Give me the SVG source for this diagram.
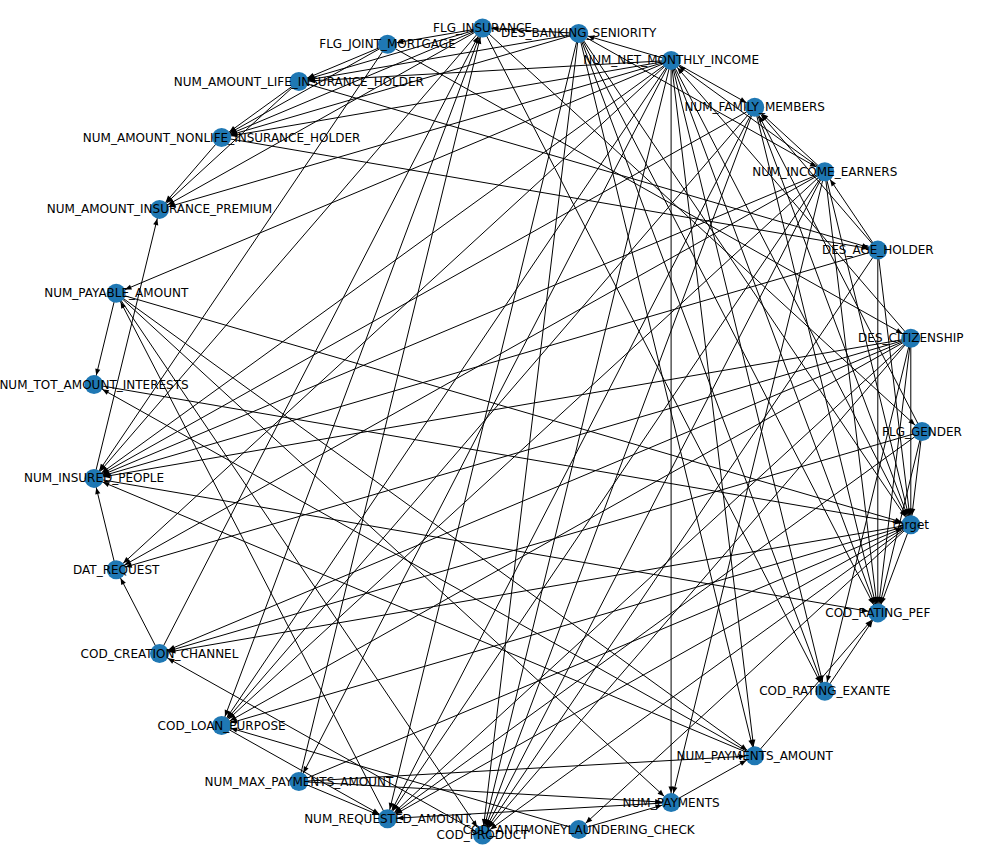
<svg xmlns="http://www.w3.org/2000/svg" width="992" height="862" viewBox="0 0 992 862">
<style>
.bg{fill:#fff}
#edges line{stroke:#000;stroke-width:1}
#edges{marker-end:url(#arr)}
.node circle{fill:#1f78b4}
.node text{font-family:"DejaVu Sans","Liberation Sans",sans-serif;font-size:12px;fill:#000;text-anchor:middle;dominant-baseline:central}
</style>
<defs>
<marker id="arr" markerUnits="userSpaceOnUse" markerWidth="20" markerHeight="10" viewBox="-20 -5 20 10" refX="0" refY="0" orient="auto">
<path d="M-9.5 0 L-16 -2.6 L-16 2.6 Z" fill="#000"/>
</marker>
</defs>
<rect class="bg" x="0" y="0" width="992" height="862"/>
<g id="edges">
<!-- CIT -->
<line x1="910.8" y1="338.3" x2="910.8" y2="524.7"/>
<line x1="910.8" y1="338.3" x2="877.8" y2="612.9"/>
<line x1="910.8" y1="338.3" x2="824.8" y2="691.3"/>
<line x1="910.8" y1="338.3" x2="482.5" y2="835"/>
<line x1="910.8" y1="338.3" x2="387.5" y2="818.7"/>
<line x1="910.8" y1="338.3" x2="221.6" y2="725.5"/>
<line x1="910.8" y1="338.3" x2="159.5" y2="653.6"/>
<line x1="910.8" y1="338.3" x2="116.2" y2="569.7"/>
<line x1="910.8" y1="338.3" x2="94" y2="478.4"/>
<line x1="910.8" y1="338.3" x2="671.1" y2="60.4"/>
<!-- FG -->
<line x1="922" y1="431.5" x2="910.8" y2="524.7"/>
<line x1="922" y1="431.5" x2="877.8" y2="612.9"/>
<line x1="922" y1="431.5" x2="159.5" y2="653.6"/>
<line x1="922" y1="431.5" x2="387.5" y2="818.7"/>
<line x1="922" y1="431.5" x2="754.7" y2="107.3"/>
<!-- AGE -->
<line x1="877.8" y1="250.1" x2="877.8" y2="612.9"/>
<line x1="877.8" y1="250.1" x2="910.8" y2="524.7"/>
<line x1="877.8" y1="250.1" x2="754.7" y2="107.3"/>
<line x1="877.8" y1="250.1" x2="824.8" y2="171.7"/>
<line x1="877.8" y1="250.1" x2="94" y2="478.4"/>
<line x1="877.8" y1="250.1" x2="482.5" y2="835"/>
<!-- IE -->
<line x1="824.8" y1="171.7" x2="671.1" y2="60.4"/>
<line x1="824.8" y1="171.7" x2="754.7" y2="107.3"/>
<line x1="824.8" y1="171.7" x2="910.8" y2="524.7"/>
<line x1="824.8" y1="171.7" x2="877.8" y2="612.9"/>
<line x1="824.8" y1="171.7" x2="671.1" y2="802.6"/>
<line x1="824.8" y1="171.7" x2="482.5" y2="835"/>
<line x1="824.8" y1="171.7" x2="387.5" y2="818.7"/>
<line x1="824.8" y1="171.7" x2="94" y2="478.4"/>
<line x1="824.8" y1="171.7" x2="221.6" y2="725.5"/>
<line x1="824.8" y1="171.7" x2="116.2" y2="569.7"/>
<!-- FM -->
<line x1="754.7" y1="107.3" x2="910.8" y2="524.7"/>
<line x1="754.7" y1="107.3" x2="877.8" y2="612.9"/>
<line x1="754.7" y1="107.3" x2="482.5" y2="835"/>
<line x1="754.7" y1="107.3" x2="387.5" y2="818.7"/>
<line x1="754.7" y1="107.3" x2="94" y2="478.4"/>
<line x1="754.7" y1="107.3" x2="221.6" y2="725.5"/>
<!-- NMI -->
<line x1="671.1" y1="60.4" x2="671.1" y2="802.6"/>
<line x1="671.1" y1="60.4" x2="754.7" y2="755.7"/>
<line x1="671.1" y1="60.4" x2="824.8" y2="691.3"/>
<line x1="671.1" y1="60.4" x2="877.8" y2="612.9"/>
<line x1="671.1" y1="60.4" x2="910.8" y2="524.7"/>
<line x1="671.1" y1="60.4" x2="482.5" y2="835"/>
<line x1="671.1" y1="60.4" x2="221.6" y2="725.5"/>
<line x1="671.1" y1="60.4" x2="94" y2="478.4"/>
<line x1="671.1" y1="60.4" x2="116.2" y2="293.3"/>
<line x1="671.1" y1="60.4" x2="159.5" y2="209.4"/>
<line x1="671.1" y1="60.4" x2="221.6" y2="137.5"/>
<line x1="671.1" y1="60.4" x2="298.9" y2="81.5"/>
<line x1="671.1" y1="60.4" x2="578.7" y2="33.4"/>
<line x1="671.1" y1="60.4" x2="754.7" y2="107.3"/>
<line x1="671.1" y1="60.4" x2="298.9" y2="781.5"/>
<line x1="671.1" y1="60.4" x2="116.2" y2="569.7"/>
<!-- BS -->
<line x1="578.7" y1="33.4" x2="482.5" y2="28"/>
<line x1="578.7" y1="33.4" x2="221.6" y2="137.5"/>
<line x1="578.7" y1="33.4" x2="298.9" y2="81.5"/>
<line x1="578.7" y1="33.4" x2="482.5" y2="835"/>
<line x1="578.7" y1="33.4" x2="387.5" y2="818.7"/>
<line x1="578.7" y1="33.4" x2="824.8" y2="691.3"/>
<line x1="578.7" y1="33.4" x2="877.8" y2="612.9"/>
<line x1="578.7" y1="33.4" x2="910.8" y2="524.7"/>
<line x1="578.7" y1="33.4" x2="754.7" y2="755.7"/>
<line x1="578.7" y1="33.4" x2="824.8" y2="171.7"/>
<!-- FI -->
<line x1="482.5" y1="28" x2="221.6" y2="137.5"/>
<line x1="482.5" y1="28" x2="159.5" y2="209.4"/>
<line x1="482.5" y1="28" x2="298.9" y2="81.5"/>
<line x1="482.5" y1="28" x2="387.5" y2="44.3"/>
<line x1="482.5" y1="28" x2="94" y2="478.4"/>
<line x1="482.5" y1="28" x2="824.8" y2="691.3"/>
<line x1="482.5" y1="28" x2="922" y2="431.5"/>
<line x1="482.5" y1="28" x2="221.6" y2="725.5"/>
<!-- JM -->
<line x1="387.5" y1="44.3" x2="221.6" y2="137.5"/>
<line x1="387.5" y1="44.3" x2="298.9" y2="81.5"/>
<line x1="387.5" y1="44.3" x2="94" y2="478.4"/>
<line x1="387.5" y1="44.3" x2="910.8" y2="338.3"/>
<!-- LIFE / NL -->
<line x1="298.9" y1="81.5" x2="159.5" y2="209.4"/>
<line x1="298.9" y1="81.5" x2="221.6" y2="137.5"/>
<line x1="298.9" y1="81.5" x2="877.8" y2="250.1"/>
<line x1="221.6" y1="137.5" x2="159.5" y2="209.4"/>
<line x1="221.6" y1="137.5" x2="877.8" y2="250.1"/>
<!-- INS / PAY / TOT -->
<line x1="94" y1="478.4" x2="159.5" y2="209.4"/>
<line x1="94" y1="478.4" x2="877.8" y2="612.9"/>
<line x1="116.2" y1="293.3" x2="94" y2="384.6"/>
<line x1="116.2" y1="293.3" x2="910.8" y2="524.7"/>
<line x1="116.2" y1="293.3" x2="754.7" y2="755.7"/>
<line x1="116.2" y1="293.3" x2="671.1" y2="802.6"/>
<line x1="116.2" y1="293.3" x2="482.5" y2="835"/>
<line x1="387.5" y1="818.7" x2="116.2" y2="293.3"/>
<line x1="94" y1="384.6" x2="910.8" y2="524.7"/>
<line x1="754.7" y1="755.7" x2="94" y2="384.6"/>
<line x1="754.7" y1="755.7" x2="877.8" y2="612.9"/>
<line x1="754.7" y1="755.7" x2="94" y2="478.4"/>
<!-- DAT / CH -->
<line x1="116.2" y1="569.7" x2="94" y2="478.4"/>
<line x1="159.5" y1="653.6" x2="116.2" y2="569.7"/>
<line x1="159.5" y1="653.6" x2="482.5" y2="28"/>
<!-- target -->
<line x1="910.8" y1="524.7" x2="159.5" y2="653.6"/>
<line x1="910.8" y1="524.7" x2="221.6" y2="725.5"/>
<line x1="910.8" y1="524.7" x2="387.5" y2="818.7"/>
<line x1="910.8" y1="524.7" x2="482.5" y2="835"/>
<line x1="910.8" y1="524.7" x2="578.7" y2="829.6"/>
<line x1="910.8" y1="524.7" x2="877.8" y2="612.9"/>
<!-- bottom -->
<line x1="482.5" y1="835" x2="159.5" y2="653.6"/>
<line x1="298.9" y1="781.5" x2="387.5" y2="818.7"/>
<line x1="298.9" y1="781.5" x2="671.1" y2="802.6"/>
<line x1="298.9" y1="781.5" x2="754.7" y2="755.7"/>
<line x1="298.9" y1="781.5" x2="910.8" y2="524.7"/>
<line x1="298.9" y1="781.5" x2="482.5" y2="28"/>
<line x1="671.1" y1="802.6" x2="387.5" y2="818.7"/>
<line x1="671.1" y1="802.6" x2="754.7" y2="755.7"/>
<line x1="578.7" y1="829.6" x2="671.1" y2="802.6"/>
<line x1="578.7" y1="829.6" x2="221.6" y2="725.5"/>
<line x1="221.6" y1="725.5" x2="387.5" y2="818.7"/>
<line x1="824.8" y1="691.3" x2="877.8" y2="612.9"/>
</g>
<g id="n_FG" class="node"><circle cx="922" cy="431.5" r="9.5"/><text x="922" y="431.5">FLG_GENDER</text></g>
<g id="n_CIT" class="node"><circle cx="910.8" cy="338.3" r="9.5"/><text x="910.8" y="338.3">DES_CITIZENSHIP</text></g>
<g id="n_AGE" class="node"><circle cx="877.8" cy="250.1" r="9.5"/><text x="877.8" y="250.1">DES_AGE_HOLDER</text></g>
<g id="n_IE" class="node"><circle cx="824.8" cy="171.7" r="9.5"/><text x="824.8" y="171.7">NUM_INCOME_EARNERS</text></g>
<g id="n_FM" class="node"><circle cx="754.7" cy="107.3" r="9.5"/><text x="754.7" y="107.3">NUM_FAMILY_MEMBERS</text></g>
<g id="n_NMI" class="node"><circle cx="671.1" cy="60.4" r="9.5"/><text x="671.1" y="60.4">NUM_NET_MONTHLY_INCOME</text></g>
<g id="n_BS" class="node"><circle cx="578.7" cy="33.4" r="9.5"/><text x="578.7" y="33.4">DES_BANKING_SENIORITY</text></g>
<g id="n_FI" class="node"><circle cx="482.5" cy="28" r="9.5"/><text x="482.5" y="28">FLG_INSURANCE</text></g>
<g id="n_JM" class="node"><circle cx="387.5" cy="44.3" r="9.5"/><text x="387.5" y="44.3">FLG_JOINT_MORTGAGE</text></g>
<g id="n_LIFE" class="node"><circle cx="298.9" cy="81.5" r="9.5"/><text x="298.9" y="81.5">NUM_AMOUNT_LIFE_INSURANCE_HOLDER</text></g>
<g id="n_NL" class="node"><circle cx="221.6" cy="137.5" r="9.5"/><text x="221.6" y="137.5">NUM_AMOUNT_NONLIFE_INSURANCE_HOLDER</text></g>
<g id="n_PREM" class="node"><circle cx="159.5" cy="209.4" r="9.5"/><text x="159.5" y="209.4">NUM_AMOUNT_INSURANCE_PREMIUM</text></g>
<g id="n_PAY" class="node"><circle cx="116.2" cy="293.3" r="9.5"/><text x="116.2" y="293.3">NUM_PAYABLE_AMOUNT</text></g>
<g id="n_TOT" class="node"><circle cx="94" cy="384.6" r="9.5"/><text x="94" y="384.6">NUM_TOT_AMOUNT_INTERESTS</text></g>
<g id="n_INS" class="node"><circle cx="94" cy="478.4" r="9.5"/><text x="94" y="478.4">NUM_INSURED_PEOPLE</text></g>
<g id="n_DAT" class="node"><circle cx="116.2" cy="569.7" r="9.5"/><text x="116.2" y="569.7">DAT_REQUEST</text></g>
<g id="n_CH" class="node"><circle cx="159.5" cy="653.6" r="9.5"/><text x="159.5" y="653.6">COD_CREATION_CHANNEL</text></g>
<g id="n_LP" class="node"><circle cx="221.6" cy="725.5" r="9.5"/><text x="221.6" y="725.5">COD_LOAN_PURPOSE</text></g>
<g id="n_MAX" class="node"><circle cx="298.9" cy="781.5" r="9.5"/><text x="298.9" y="781.5">NUM_MAX_PAYMENTS_AMOUNT</text></g>
<g id="n_REQ" class="node"><circle cx="387.5" cy="818.7" r="9.5"/><text x="387.5" y="818.7">NUM_REQUESTED_AMOUNT</text></g>
<g id="n_PROD" class="node"><circle cx="482.5" cy="835" r="9.5"/><text x="482.5" y="835">COD_PRODUCT</text></g>
<g id="n_AML" class="node"><circle cx="578.7" cy="829.6" r="9.5"/><text x="578.7" y="829.6">COD_ANTIMONEYLAUNDERING_CHECK</text></g>
<g id="n_NP" class="node"><circle cx="671.1" cy="802.6" r="9.5"/><text x="671.1" y="802.6">NUM_PAYMENTS</text></g>
<g id="n_NPA" class="node"><circle cx="754.7" cy="755.7" r="9.5"/><text x="754.7" y="755.7">NUM_PAYMENTS_AMOUNT</text></g>
<g id="n_EX" class="node"><circle cx="824.8" cy="691.3" r="9.5"/><text x="824.8" y="691.3">COD_RATING_EXANTE</text></g>
<g id="n_PEF" class="node"><circle cx="877.8" cy="612.9" r="9.5"/><text x="877.8" y="612.9">COD_RATING_PEF</text></g>
<g id="n_T" class="node"><circle cx="910.8" cy="524.7" r="9.5"/><text x="910.8" y="524.7">target</text></g>
</svg>
